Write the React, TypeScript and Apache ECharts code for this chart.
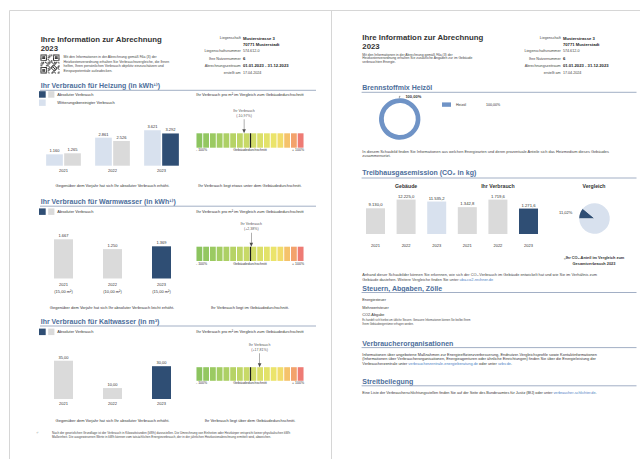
import React, { useEffect, useRef } from 'react';
import * as echarts from 'echarts';

// ---------------- data ----------------
const years = ['2021', '2022', '2023'];
const heatAdjusted = [1160, 2861, 3621];
const heatAbsolute = [1265, 2526, 3292];
const hotWaterAbsolute = [1667, 1250, 1369];
const hotWaterAreas = ['15,00 m²', '10,00 m²', '15,00 m²'];
const coldWaterAbsolute = [35.0, 10.0, 30.0];
const gaugeDeviation = [-10.97, 2.38, 17.81]; // Heizung, Warmwasser, Kaltwasser
const gaugeSegments = [1, 1, 1, 1, 1, 1, 1, 1, 1, 1, 1, 1, 1, 1, 1, 1];
const gaugeTicks = ['- 100%', 'Gebäudedurchschnitt', '+ 100%'];
const fuelNames = ['Heizöl'];
const fuelShares = [100.0];
const co2Building = [9130.0, 12225.0, 11535.2];
const co2Yours = [1342.8, 1719.6, 1271.6];

// ---------------- styles ----------------
const FONT = '"Liberation Sans", "DejaVu Sans", Arial, sans-serif';
const NAVY = '#2f4e74';
const LIGHT = '#d8e1ee';
const GREY = '#dadada';
const HEAD = '#4d6e9b';
const RULE = '#97a6be';
const TXT = '#333333';
const LINK = '#4a80c4';
const DONUT = '#6f93c6';
const BORDER = '#d6d6d6';
const SEG = ['#8cc45f', '#93c761', '#9bca62', '#a4cd63', '#add065', '#b6d365', '#bfd667', '#c8d967',
  '#d1dc69', '#dadf69', '#e3e26a', '#ebe46b', '#f1dc6b', '#f5c26b', '#f3a26c', '#ee7b74'];
const ARROW = 'path://M1.75,0 L2.25,0 L2.25,10 L4,10 L2,14 L0,10 L1.75,10 Z';

function de(v: number, dec: number) {
  const s = Math.abs(v).toFixed(dec);
  const [i, f] = s.split('.');
  const ii = i.replace(/\B(?=(\d{3})+(?!\d))/g, '.');
  return (v < 0 ? '-' : '') + (f ? ii + ',' + f : ii);
}

function txt(x: number, y: number, text: string, size: number, o: any = {}) {
  const style: any = {
    text, fontSize: size, fontFamily: FONT, fontWeight: o.bold ? 'bold' : 'normal',
    fill: o.color || TXT, textFill: o.color || TXT,
    textAlign: o.align || 'left', textVerticalAlign: 'middle',
  };
  if (o.rich) style.rich = o.rich;
  return { type: 'text', x, y, silent: true, style };
}
function line(x1: number, y1: number, x2: number, y2: number, stroke: string, w = 1) {
  return { type: 'line', silent: true, shape: { x1, y1, x2, y2 }, style: { stroke, lineWidth: w } };
}
function rect(x: number, y: number, w: number, h: number, fill: string) {
  return { type: 'rect', silent: true, shape: { x, y, width: w, height: h }, style: { fill } };
}
function linkRich(size: number) {
  return { l: { fill: LINK, textFill: LINK, fontSize: size, fontFamily: FONT } };
}

function qr(x0: number, y0: number) {
  const n = 21, m = 0.9;
  const kids: any[] = [];
  const finder = (r: number, c: number) => {
    const d = Math.max(Math.abs(r - 3), Math.abs(c - 3));
    return d !== 2 && d <= 3;
  };
  for (let r = 0; r < n; r++) {
    for (let c = 0; c < n; c++) {
      let on: boolean;
      if (r < 8 && c < 8) on = r < 7 && c < 7 && finder(r, c);
      else if (r < 8 && c > 12) on = r < 7 && c > 13 && finder(r, c - 14);
      else if (r > 12 && c < 8) on = r > 13 && c < 7 && finder(r - 14, c);
      else on = ((r * 31 + c * 17 + r * c) % 7) < 3;
      if (on) kids.push(rect(x0 + c * m, y0 + r * m, m + 0.05, m + 0.05, '#222'));
    }
  }
  return { type: 'group', silent: true, children: kids };
}

function infoBlock(lx: number) {
  const rows: [string, string, boolean, number][] = [
    ['Liegenschaft', 'Musterstrasse 3', true, 38],
    ['', '70771 Musterstadt', true, 44.5],
    ['Liegenschaftsnummer', '574.612-0', false, 51.4],
    ['Ihre Nutzernummer', '6', true, 58.6],
    ['Abrechnungszeitraum', '01.01.2023 - 31.12.2023', true, 65.7],
    ['erstellt am', '17.04.2024', false, 72.7],
  ];
  const out: any[] = [];
  rows.forEach(([l, v, b, y]) => {
    if (l) out.push(txt(lx, y, l, 3.7, { align: 'right', color: '#444' }));
    out.push(txt(lx + 2.2, y, v, b ? 4.2 : 3.7, { bold: b, color: b ? '#222' : '#444' }));
  });
  return out;
}

function heading(x: number, y: number, text: string, x2: number, ly: number) {
  return [txt(x, y, text, 7, { bold: true, color: HEAD }), line(x - 0.7, ly, x2, ly, RULE, 0.9)];
}

function buildOption() {
  const catAxis = (gridIndex: number, extra: any = {}) => ({
    type: 'category', gridIndex, data: years,
    axisLine: { show: false }, axisTick: { show: false }, splitLine: { show: false },
    axisLabel: { fontSize: 4, color: TXT, margin: 2.5, fontFamily: FONT, ...(extra.axisLabel || {}) },
  });
  const gaugeCat = (gridIndex: number) => ({
    type: 'category', gridIndex, position: 'top', show: false,
    data: gaugeSegments.map((_, i) => 's' + i),
  });
  const gaugeVal = (gridIndex: number) => ({
    type: 'value', gridIndex, position: 'bottom', min: -100, max: 100, interval: 100,
    axisLine: { show: false }, axisTick: { show: false }, splitLine: { show: false },
    axisLabel: {
      fontSize: 3.5, color: TXT, margin: 0.6, fontFamily: FONT,
      alignMinLabel: 'left', alignMaxLabel: 'right',
      formatter: (v: number) => gaugeTicks[Math.round((v + 100) / 100)],
    },
  });
  const valAxis = (gridIndex: number, max: number) => ({ type: 'value', gridIndex, min: 0, max, show: false });

  const grid = [
    { left: 39, top: 127.5, width: 147, height: 38.2 },   // 0 heating bars
    { left: 196, top: 133.3, width: 108, height: 14.4 },  // 1 heating gauge
    { left: 39, top: 235, width: 147, height: 43.5 },     // 2 hot water bars
    { left: 196, top: 246.7, width: 108, height: 14.3 },  // 3 hot water gauge
    { left: 39, top: 357, width: 147, height: 42 },       // 4 cold water bars
    { left: 196, top: 367.2, width: 108, height: 13.6 },  // 5 cold water gauge
    { left: 360.2, top: 196, width: 91.8, height: 38 },   // 6 CO2 building
    { left: 452, top: 196, width: 91.8, height: 38 },     // 7 CO2 yours
  ];

  const xAxis = [
    catAxis(0),
    gaugeCat(1), gaugeVal(1),
    catAxis(2, { axisLabel: { lineHeight: 7.6, margin: 2, formatter: (v: string, i: number) => `${v}\n(${hotWaterAreas[i]})` } }),
    gaugeCat(3), gaugeVal(3),
    catAxis(4),
    gaugeCat(5), gaugeVal(5),
    catAxis(6, { axisLabel: { margin: 9.5 } }),
    catAxis(7, { axisLabel: { margin: 9.5 } }),
  ];
  const yAxis = [
    valAxis(0, 3900), valAxis(1, 1), valAxis(2, 1850), valAxis(3, 1),
    valAxis(4, 38.4), valAxis(5, 1), valAxis(6, 13500), valAxis(7, 1900),
  ];

  const barLabel = (dec: number, size = 4) => ({
    show: true, position: 'top', distance: 1.5, fontSize: size, color: TXT, fontFamily: FONT,
    formatter: (p: any) => de(p.value, dec),
  });
  const colorsBy = (arr: string[]) => (p: any) => arr[p.dataIndex];

  const series: any[] = [
    {
      type: 'bar', name: 'Witterungsbereinigter Verbrauch', xAxisIndex: 0, yAxisIndex: 0,
      data: heatAdjusted, barWidth: 16.7, barGap: '8%', itemStyle: { color: LIGHT }, label: barLabel(0), silent: true,
    },
    {
      type: 'bar', name: 'Absoluter Verbrauch', xAxisIndex: 0, yAxisIndex: 0,
      data: heatAbsolute, barWidth: 16.7, barGap: '8%', itemStyle: { color: colorsBy([GREY, GREY, NAVY]) }, label: barLabel(0), silent: true,
    },
    {
      type: 'bar', name: 'Warmwasser', xAxisIndex: 3, yAxisIndex: 2,
      data: hotWaterAbsolute, barWidth: 19, itemStyle: { color: colorsBy([GREY, GREY, NAVY]) }, label: barLabel(0), silent: true,
    },
    {
      type: 'bar', name: 'Kaltwasser', xAxisIndex: 6, yAxisIndex: 4,
      data: coldWaterAbsolute, barWidth: 19, itemStyle: { color: colorsBy([GREY, GREY, NAVY]) }, label: barLabel(2), silent: true,
    },
    {
      type: 'bar', name: 'Gebäude', xAxisIndex: 9, yAxisIndex: 6,
      data: co2Building, barWidth: 19, itemStyle: { color: colorsBy([GREY, GREY, LIGHT]) }, label: barLabel(1, 4.2), silent: true,
    },
    {
      type: 'bar', name: 'Ihr Verbrauch', xAxisIndex: 10, yAxisIndex: 7,
      data: co2Yours, barWidth: 19, itemStyle: { color: colorsBy([GREY, GREY, NAVY]) }, label: barLabel(1, 4.2), silent: true,
    },
  ];

  gaugeDeviation.forEach((dev, k) => {
    const gi = 1 + 2 * k;
    const xCat = 1 + 3 * k;
    const xVal = 2 + 3 * k;
    series.push({
      type: 'bar', xAxisIndex: xCat, yAxisIndex: gi, data: gaugeSegments, barCategoryGap: '14%', silent: true,
      itemStyle: { color: colorsBy(SEG) },
    });
    series.push({
      type: 'scatter', xAxisIndex: xVal, yAxisIndex: gi, data: [[dev, 1]], clip: false, silent: true,
      symbol: ARROW, symbolSize: [3.6, 14], symbolOffset: [0, -7], itemStyle: { color: '#222' },
      label: {
        show: true, position: 'top', distance: 1, fontSize: 3.6, lineHeight: 4.9, color: '#222', fontFamily: FONT, align: 'center',
        formatter: () => `Ihr Verbrauch\n(${dev > 0 ? '+' : ''}${de(dev, 2)}%)`,
      },
      markLine: {
        silent: true, symbol: ['none', 'none'], label: { show: false },
        lineStyle: { color: '#1a1a1a', width: 1.2, type: 'solid' },
        data: [{ xAxis: 0 }],
      },
    });
  });

  series.push({
    type: 'pie', name: 'Brennstoffmix', center: [399, 119], radius: [16, 20.7], startAngle: 269, silent: true,
    data: fuelNames.map((n, i) => ({ name: n, value: fuelShares[i] })),
    itemStyle: { color: DONUT },
    label: {
      show: true, position: 'outside', fontSize: 4, fontWeight: 'bold', color: TXT, fontFamily: FONT,
      formatter: (p: any) => de(p.value, 2) + '%',
    },
    labelLine: { show: true, length: 2, length2: 1, lineStyle: { color: '#444', width: 0.5 } },
  });

  series.push({
    type: 'pie', name: 'Vergleich', center: [594.5, 218.5], radius: [0, 15.3], startAngle: 180, silent: true,
    data: [
      { name: 'Ihr Verbrauch 2023', value: co2Yours[2], itemStyle: { color: NAVY } },
      { name: 'Gebäude 2023', value: co2Building[2] - co2Yours[2], itemStyle: { color: LIGHT }, label: { show: false }, labelLine: { show: false } },
    ],
    label: {
      show: true, position: 'outside', fontSize: 4, color: TXT, fontFamily: FONT,
      formatter: (p: any) => de((p.value / co2Building[2]) * 100, 2) + '%',
    },
    labelLine: { show: false, length: 3, length2: 0 },
  });

  // ---------------- static texts ----------------
  const g: any[] = [];
  // page borders
  g.push(line(9.5, 10.5, 640, 10.5, BORDER, 1));
  g.push(line(9.5, 10.5, 9.5, 459, BORDER, 1));
  g.push(line(331.5, 10.5, 331.5, 459, BORDER, 1));

  // ---- page 1 ----
  g.push(txt(40.7, 39, 'Ihre Information zur Abrechnung', 7.8, { bold: true, color: '#333' }));
  g.push(txt(40.7, 48.3, '2023', 7.8, { bold: true, color: '#333' }));
  g.push(qr(40.5, 54.5));
  [
    'Mit den Informationen in der Abrechnung gemäß §6a (3) der',
    'Heizkostenverordnung erhalten Sie Verbrauchsvergleiche, die Ihnen',
    'helfen, Ihren persönlichen Verbrauch objektiv einzuschätzen und',
    'Einsparpotentiale aufzudecken.',
  ].forEach((s, i) => g.push(txt(63.5, 57 + i * 4.6, s, 3.5, { color: '#444' })));
  g.push(...infoBlock(240.7));

  const vergleich = 'Ihr Verbrauch pro m² im Vergleich zum Gebäudedurchschnitt';
  // Heizung
  g.push(...heading(40.7, 85, 'Ihr Verbrauch für Heizung (in kWh¹⁾)', 316, 90.3));
  g.push(rect(39, 91.2, 6.7, 6.5, NAVY), rect(48.2, 91.2, 6.2, 6.5, GREY));
  g.push(txt(57.3, 94.6, 'Absoluter Verbrauch', 4));
  g.push(rect(39, 99.4, 6.7, 6.5, LIGHT));
  g.push(txt(57.3, 102.8, 'Witterungsbereinigter Verbrauch', 4));
  g.push(txt(250, 94.6, vergleich, 4, { align: 'center' }));
  g.push(txt(112.5, 185.7, 'Gegenüber dem Vorjahr hat sich Ihr absoluter Verbrauch erhöht.', 4, { align: 'center' }));
  g.push(txt(250, 185.7, 'Ihr Verbrauch liegt etwas unter dem Gebäudedurchschnitt.', 4, { align: 'center' }));

  // Warmwasser
  g.push(...heading(40.7, 201.5, 'Ihr Verbrauch für Warmwasser (in kWh¹⁾)', 316, 206.2));
  g.push(rect(39, 208.4, 6.7, 6.5, NAVY), rect(48.2, 208.4, 6.2, 6.5, GREY));
  g.push(txt(57.3, 211.7, 'Absoluter Verbrauch', 4));
  g.push(txt(250, 211.7, vergleich, 4, { align: 'center' }));
  g.push(txt(112, 307.3, 'Gegenüber dem Vorjahr hat sich Ihr absoluter Verbrauch leicht erhöht.', 4, { align: 'center' }));
  g.push(txt(250, 307.3, 'Ihr Verbrauch liegt im Gebäudedurchschnitt.', 4, { align: 'center' }));

  // Kaltwasser
  g.push(...heading(40.7, 321, 'Ihr Verbrauch für Kaltwasser (in m³)', 316, 326));
  g.push(rect(39, 328.6, 6.7, 6.5, NAVY), rect(48.2, 328.6, 6.2, 6.5, GREY));
  g.push(txt(57.3, 331.9, 'Absoluter Verbrauch', 4));
  g.push(txt(250, 331.9, vergleich, 4, { align: 'center' }));
  g.push(txt(112.5, 420.3, 'Gegenüber dem Vorjahr hat sich Ihr absoluter Verbrauch erhöht.', 4, { align: 'center' }));
  g.push(txt(250, 420.3, 'Ihr Verbrauch liegt über dem Gebäudedurchschnitt.', 4, { align: 'center' }));

  // footnote
  g.push(txt(36.5, 432.3, '¹⁾', 3.2));
  g.push(txt(52, 432.3, 'Nach der gesetzlichen Grundlage ist der Verbrauch in Kilowattstunden (kWh) darzustellen. Die Umrechnung von Einheiten oder Heizkörper entspricht keiner physikalischen kWh', 3.05, { color: '#444' }));
  g.push(txt(52, 436.6, 'Maßeinheit. Die ausgewiesenen Werte in kWh können vom tatsächlichen Energieverbrauch, der in der jährlichen Heizkostenabrechnung ermittelt wird, abweichen.', 3.05, { color: '#444' }));

  // ---- page 2 ----
  g.push(txt(362.3, 37.8, 'Ihre Information zur Abrechnung', 7.8, { bold: true, color: '#333' }));
  g.push(txt(362.3, 46, '2023', 7.8, { bold: true, color: '#333' }));
  [
    'Mit den Informationen in der Abrechnung gemäß §6a (3) der',
    'Heizkostenverordnung erhalten Sie zusätzliche Angaben zur im Gebäude',
    'verbrauchten Energie.',
  ].forEach((s, i) => g.push(txt(362.3, 54.5 + i * 3.7, s, 3.4, { color: '#444' })));
  g.push(...infoBlock(560.7));

  g.push(...heading(362.3, 87.3, 'Brennstoffmix Heizöl', 636.5, 92.3));
  g.push(txt(362.3, 151, 'In diesem Schaubild finden Sie Informationen aus welchen Energiearten und deren prozentuale Anteile sich das Heizmedium dieses Gebäudes', 3.9, { color: '#444' }));
  g.push(txt(362.3, 155.5, 'zusammensetzt.', 3.9, { color: '#444' }));

  g.push(...heading(362.3, 172.3, 'Treibhausgasemission (CO₂ in kg)', 636.5, 178));
  g.push(txt(406.1, 185.7, 'Gebäude', 5.2, { bold: true, align: 'center' }));
  g.push(txt(497.9, 185.7, 'Ihr Verbrauch', 5.2, { bold: true, align: 'center' }));
  g.push(txt(594, 185.7, 'Vergleich', 5.2, { bold: true, align: 'center' }));
  g.push(txt(594, 257.8, '„Ihr CO₂-Anteil im Vergleich zum', 3.9, { bold: true, align: 'center' }));
  g.push(txt(594, 263.2, 'Gesamtverbrauch 2023', 3.9, { bold: true, align: 'center' }));
  g.push(txt(362.3, 274.3, 'Anhand dieser Schaubilder können Sie erkennen, wie sich der CO₂-Verbrauch im Gebäude entwickelt hat und wie Sie im Verhältnis zum', 3.9, { color: '#444' }));
  g.push(txt(362.3, 279.3, 'Gebäude dastehen. Weitere Vergleiche finden Sie unter {l|uba.co2-rechner.de}', 3.9, { color: '#444', rich: linkRich(3.9) }));

  g.push(...heading(362.3, 288.3, 'Steuern, Abgaben, Zölle', 636.5, 292.5));
  g.push(txt(362.3, 300, 'Energiesteuer', 3.8, { color: '#333' }));
  g.push(txt(362.3, 307.7, 'Mehrwertsteuer', 3.8, { color: '#333' }));
  g.push(txt(362.3, 315, 'CO2-Abgabe', 3.8, { color: '#333' }));
  g.push(txt(362.3, 320.8, 'Es handelt sich hierbei um übliche Steuern. Genauere Informationen können Sie bei/bei Ihrem', 2.6, { color: '#444' }));
  g.push(txt(362.3, 324.8, 'Ihrem Gebäudeeigentümer erfragen werden.', 2.6, { color: '#444' }));

  g.push(...heading(362.3, 343.3, 'Verbraucherorganisationen', 636.5, 347.6));
  g.push(txt(362.3, 354.3, 'Informationen über angebotene Maßnahmen zur Energieeffizienzverbesserung, Endnutzer-Vergleichsprofile sowie Kontaktinformationen', 3.9, { color: '#333' }));
  g.push(txt(362.3, 358.9, '(Informationen über Verbraucherorganisationen, Energieagenturen oder ähnliche Einrichtungen) finden Sie über die Energieleistung der', 3.9, { color: '#333' }));
  g.push(txt(362.3, 363.5, 'Verbraucherzentrale unter {l|verbraucherzentrale-energieberatung.de} oder unter {l|vzbv.de}.', 3.9, { color: '#333', rich: linkRich(3.9) }));

  g.push(...heading(362.3, 381.7, 'Streitbeilegung', 636.5, 385.8));
  g.push(txt(362.3, 392.7, 'Eine Liste der Verbraucherschlichtungsstellen finden Sie auf der Seite des Bundesamtes für Justiz (BfJ) oder unter {l|verbraucher-schlichter.de}.', 3.75, { color: '#333', rich: linkRich(3.75) }));

  return {
    animation: false,
    backgroundColor: '#ffffff',
    textStyle: { fontFamily: FONT },
    legend: {
      show: true, data: fuelNames, left: 437, top: 97.4, itemWidth: 9, itemHeight: 4.4, icon: 'rect',
      selectedMode: false, itemGap: 4,
      textStyle: {
        fontSize: 3.6, color: TXT, fontFamily: FONT,
        rich: { n: { width: 30, fontSize: 3.6, fontFamily: FONT, color: TXT }, p: { fontSize: 3.6, fontFamily: FONT, color: TXT } },
      },
      formatter: (name: string) => `{n|${name}}{p|${de(fuelShares[fuelNames.indexOf(name)], 2)}%}`,
    },
    grid, xAxis, yAxis, series,
    graphic: { elements: g },
  };
}

export default function App() {
  const ref = useRef<HTMLDivElement>(null);
  useEffect(() => {
    if (!ref.current) return;
    const chart = echarts.init(ref.current, null, { renderer: 'svg' });
    chart.setOption(buildOption() as any);
    return () => chart.dispose();
  }, []);
  return (
    <div
      ref={ref}
      style={{ position: 'absolute', left: 0, top: 0, width: 640, height: 459, background: '#fff' }}
    />
  );
}
